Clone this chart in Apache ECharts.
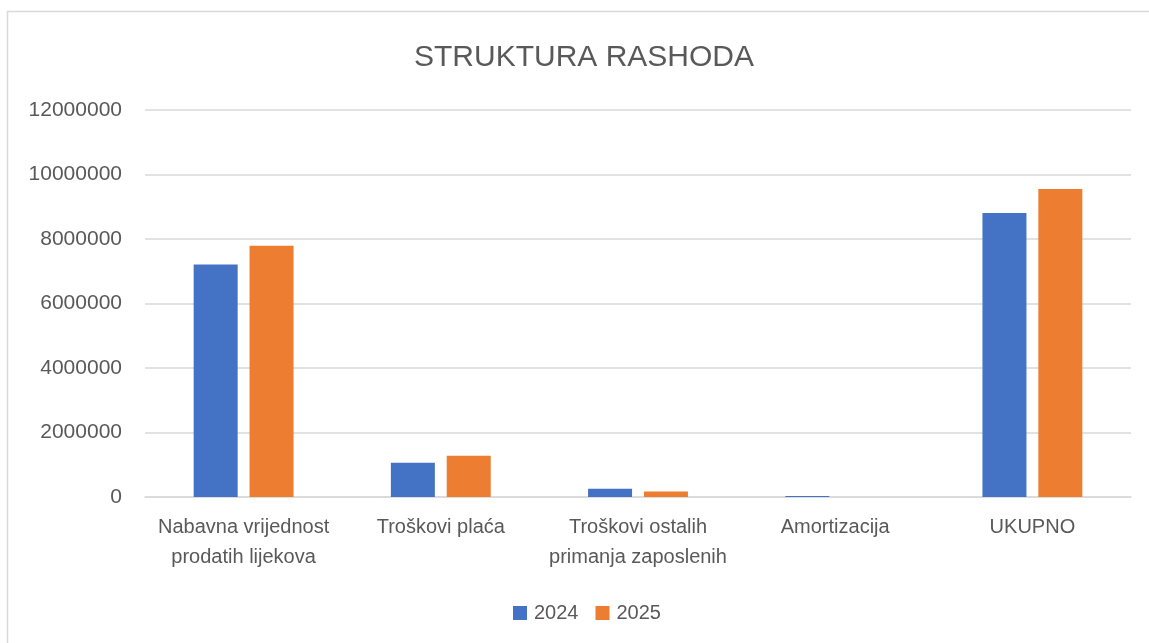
<!DOCTYPE html>
<html>
<head>
<meta charset="utf-8">
<title>Struktura rashoda</title>
<script src="https://cdn.jsdelivr.net/npm/echarts@6/dist/echarts.min.js"></script>
<style>
  html, body { margin: 0; padding: 0; background: #fff; }
  #chart { width: 1149px; height: 643px; }
</style>
</head>
<body>
<div id="chart"></div>
<script>
// podaci ocitani sa slike
const categories = [
  "Nabavna vrijednost\nprodatih lijekova",
  "Troškovi plaća",
  "Troškovi ostalih\nprimanja zaposlenih",
  "Amortizacija",
  "UKUPNO"
];
const values2024 = [7210000, 1060000, 255000, 30000, 8810000];
const values2025 = [7790000, 1280000, 170000, 3000, 9550000];
const seriesNames = ["2024", "2025"];
const yTicks = { min: 0, max: 12000000, interval: 2000000 };

const textColor = "#595959";
const gridColor = "#d9d9d9";

const chart = echarts.init(document.getElementById("chart"));

chart.setOption({
  animation: false,
  textStyle: { fontFamily: "Liberation Sans" },
  title: {
    text: "STRUKTURA RASHODA",
    left: 409,
    top: 38,
    textStyle: {
      color: textColor,
      fontSize: 30,
      fontWeight: "normal",
    },
  },
  graphic: [
    // okvir grafikona (vidljivi lijevi i gornji rub)
    {
      type: "polyline",
      silent: true,
      shape: { points: [[7.5, 643], [7.5, 11.5], [1149, 11.5]] },
      style: { stroke: gridColor, lineWidth: 1.5, fill: null },
    },
  ],
  grid: {
    left: 145,
    right: 18,
    top: 110,
    bottom: 146,
  },
  legend: {
    top: 598,
    left: 508,
    itemWidth: 14,
    itemHeight: 14,
    itemGap: 17,
    icon: "rect",
    textStyle: { color: textColor, fontSize: 20, padding: [0, 0, 0, 2] },
    data: seriesNames,
  },
  xAxis: {
    type: "category",
    data: categories,
    axisLine: { lineStyle: { color: gridColor, width: 1.5 } },
    axisTick: { show: false },
    axisLabel: {
      interval: 0,
      color: textColor,
      fontSize: 20,
      lineHeight: 30,
      margin: 15,
    },
  },
  yAxis: {
    type: "value",
    min: yTicks.min,
    max: yTicks.max,
    interval: yTicks.interval,
    axisLine: { show: false },
    axisTick: { show: false },
    axisLabel: {
      color: textColor,
      fontSize: 21,
      margin: 23,
      formatter: (v) => String(v),
    },
    splitLine: {
      show: true,
      lineStyle: { color: gridColor, width: 1.5 },
    },
  },
  series: [
    {
      type: "bar",
      name: seriesNames[0],
      data: values2024,
      barWidth: 44,
      barGap: "27%",
      itemStyle: { color: "#4472c4" },
    },
    {
      type: "bar",
      name: seriesNames[1],
      data: values2025,
      barWidth: 44,
      barGap: "27%",
      itemStyle: { color: "#ed7d31" },
    },
  ],
});
</script>
</body>
</html>
